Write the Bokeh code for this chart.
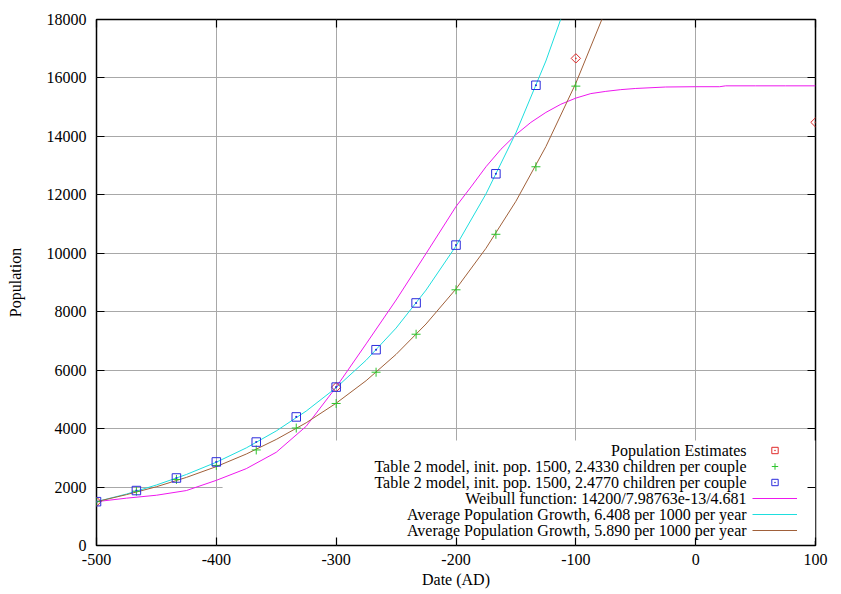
from bokeh.plotting import figure
from bokeh.models import (LinearAxis, Range1d, Legend, LegendItem, Label,
                          BoxAnnotation, FixedTicker)
from bokeh.embed import file_html
from bokeh.resources import INLINE

FONT = "Liberation Serif"
FS = "16px"

# ---------------- data ----------------
est_years = [-500, -300, -100, 100]
est_pop = [1500, 5420, 16670, 14480]

gen_years = [-500, -466.7, -433.3, -400, -366.7, -333.3, -300,
             -266.7, -233.3, -200, -166.7, -133.3, -100]
pop_2433 = [1500, 1860, 2260, 2740, 3270, 4020, 4860,
            5930, 7230, 8750, 10650, 12960, 15720]

gen_years_2477 = [-500, -466.7, -433.3, -400, -366.7, -333.3, -300,
                  -266.7, -233.3, -200, -166.7, -133.3]
pop_2477 = [1500, 1880, 2310, 2860, 3540, 4400, 5420,
            6700, 8300, 10280, 12720, 15750]

weibull_years = [-500, -475, -450, -425, -400, -375, -350, -325, -300,
                 -275, -250, -225, -200, -187.5, -175, -162.5, -150,
                 -137.5, -125, -112.5, -100, -87.5, -75, -62.5, -50,
                 -25, 0, 20, 25, 50, 75, 100]
weibull = [1500, 1620, 1720, 1880, 2230, 2630, 3190, 4080, 5420,
           6900, 8400, 9990, 11600, 12270, 12960, 13560, 14060,
           14480, 14820, 15100, 15310, 15465, 15540, 15600, 15640,
           15690, 15700, 15700, 15730, 15730, 15730, 15730]

growth_6408_years = [-500, -475, -450, -425, -400, -375, -350, -325, -300,
                     -275, -250, -225, -200, -175, -150, -125, -100]
growth_6408 = [1500, 1760, 2070, 2430, 2850, 3340, 3920, 4600, 5400,
               6340, 7440, 8740, 10250, 12030, 14120, 16580, 19460]

growth_5890_years = [-500, -475, -450, -425, -400, -375, -350, -325, -300,
                     -275, -250, -225, -200, -175, -150, -125, -100, -75]
growth_5890 = [1500, 1740, 2010, 2330, 2700, 3130, 3630, 4200, 4870,
               5640, 6540, 7580, 8780, 10170, 11780, 13650, 15820, 18330]

x_ticks = [-500, -400, -300, -200, -100, 0, 100]
x_tick_labels = ["-500", "-400", "-300", "-200", "-100", "0", "100"]
y_ticks = [0, 2000, 4000, 6000, 8000, 10000, 12000, 14000, 16000, 18000]

legend_labels = [
    "Population Estimates",
    "Table 2 model, init. pop. 1500, 2.4330 children per couple",
    "Table 2 model, init. pop. 1500, 2.4770 children per couple",
    "Weibull function: 14200/7.98763e-13/4.681",
    "Average Population Growth, 6.408 per 1000 per year",
    "Average Population Growth, 5.890 per 1000 per year",
]

# ---------------- styles ----------------
C_RED = "#e02a2a"
C_GREEN = "#2ec52e"
C_BLUE = "#2b2bdc"
C_MAGENTA = "#ee18ee"
C_CYAN = "#1edede"
C_BROWN = "#a0603a"
GRID = "#a8a8a8"

p = figure(width=841, height=594, output_backend="svg", toolbar_location=None,
           x_range=Range1d(-500, 100), y_range=Range1d(0, 18000),
           min_border_left=96, min_border_right=26, min_border_top=19,
           min_border_bottom=49, background_fill_color="white",
           border_fill_color="white")

p.outline_line_color = "black"
p.outline_line_width = 1.5

bottom_ax = p.below[0]
left_ax = p.left[0]
bottom_ax.ticker = FixedTicker(ticks=x_ticks)
bottom_ax.major_label_overrides = dict(zip(x_ticks, x_tick_labels))
left_ax.ticker = FixedTicker(ticks=y_ticks)

top_ax = LinearAxis(ticker=FixedTicker(ticks=x_ticks),
                    major_label_overrides={t: "" for t in x_ticks})
right_ax = LinearAxis(ticker=FixedTicker(ticks=y_ticks),
                      major_label_overrides={t: "" for t in y_ticks})
p.add_layout(top_ax, "above")
p.add_layout(right_ax, "right")

for ax in [bottom_ax, left_ax, top_ax, right_ax]:
    ax.axis_line_color = None
    ax.major_tick_in = 8
    ax.major_tick_out = 0
    ax.minor_tick_in = 0
    ax.minor_tick_out = 0
    ax.major_tick_line_color = "black"
    ax.major_tick_line_width = 1.2
    ax.major_label_text_font = FONT
    ax.major_label_text_font_size = FS
    ax.major_label_text_color = "black"
    ax.axis_label_text_font = FONT
    ax.axis_label_text_font_size = FS
    ax.axis_label_text_font_style = "normal"
    ax.axis_label_text_color = "black"

for ax in [top_ax, right_ax]:
    ax.major_label_standoff = 0
    ax.major_label_text_font_size = "0px"

bottom_ax.axis_label = "Date (AD)"
left_ax.axis_label = "Population"
bottom_ax.major_label_standoff = 8
bottom_ax.axis_label_standoff = 3
left_ax.major_label_standoff = 10
left_ax.axis_label_standoff = 20

p.xgrid.grid_line_color = GRID
p.ygrid.grid_line_color = GRID
p.xgrid.grid_line_width = 1
p.ygrid.grid_line_width = 1

# white legend background (hides the grid like gnuplot's key box)
p.add_layout(BoxAnnotation(left=-394.8, right=100, bottom=150, top=3590,
                           fill_color="white", fill_alpha=1.0,
                           line_color=None, level="underlay"))

# ---------------- series ----------------
r_w = p.line(weibull_years, weibull, line_color=C_MAGENTA, line_width=1)
r_c = p.line(growth_6408_years, growth_6408, line_color=C_CYAN, line_width=1)
r_b = p.line(growth_5890_years, growth_5890, line_color=C_BROWN, line_width=1)

r_est = p.scatter(est_years, est_pop, marker="square_dot", angle=0.7854,
                  size=6.6, line_color=C_RED, fill_color=None, line_width=1)
r_g = p.scatter(gen_years, pop_2433, marker="cross", size=9,
                line_color=C_GREEN, line_width=1)
r_sq = p.scatter(gen_years_2477, pop_2477, marker="square_dot", size=8.5,
                 line_color=C_BLUE, fill_color=None, line_width=1)

# ---------------- key (gnuplot style: text right, sample after) ----------------
key = Legend(items=[LegendItem(label="", renderers=[r]) for r in
                    [r_est, r_g, r_sq, r_w, r_c, r_b]],
             location=(656, 7), orientation="vertical",
             glyph_width=45, glyph_height=16, label_height=16,
             label_width=0, label_standoff=0, spacing=0, padding=0,
             margin=0, border_line_color=None, background_fill_alpha=0,
             label_text_font_size="1px")
p.add_layout(key, "center")

row_y = [3250, 2700, 2155, 1607, 1060, 513]
for lab, yy in zip(legend_labels, row_y):
    p.add_layout(Label(x=42.5, y=yy, text=lab, text_align="right",
                       text_baseline="middle", text_font=FONT,
                       text_font_size=FS, text_color="black"))

open("out.html", "w").write(file_html(p, INLINE))
